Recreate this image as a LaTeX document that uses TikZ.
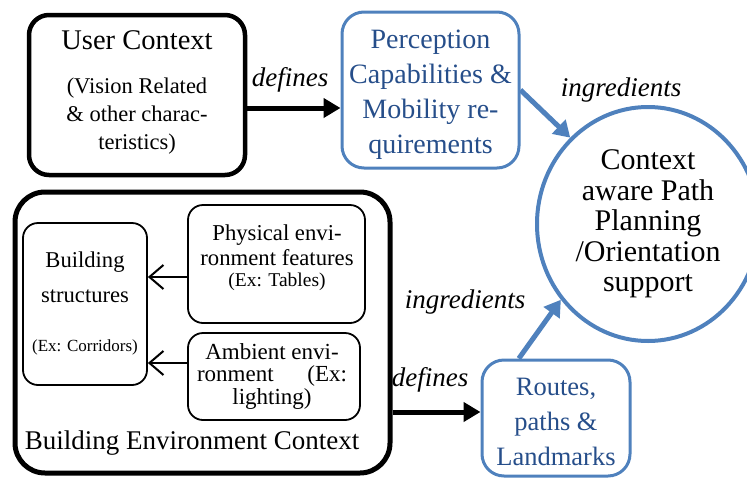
\documentclass[tikz,border=0pt]{standalone}
\usepackage{fontspec}
\setmainfont{Liberation Serif}
\usetikzlibrary{arrows.meta, shapes.geometric}

\definecolor{boxblue}{RGB}{79,129,189}
\definecolor{textblue}{RGB}{38,78,138}

\newcommand{\titlesize}{\fontsize{28.5}{30}\selectfont}
\newcommand{\notesize}{\fontsize{22.5}{28}\selectfont}
\newcommand{\percsize}{\fontsize{28}{35}\selectfont}
\newcommand{\routesize}{\fontsize{26.5}{35}\selectfont}
\newcommand{\plansize}{\fontsize{30}{30.5}\selectfont}
\newcommand{\edgesize}{\fontsize{27}{30}\selectfont\itshape}
\newcommand{\envsize}{\fontsize{27}{30}\selectfont}
\newcommand{\partsize}{\fontsize{22.7}{25}\selectfont}
\newcommand{\exsize}{\fontsize{19.5}{22}\selectfont}
\newcommand{\corrsize}{\fontsize{17}{20}\selectfont}

\begin{document}
\begin{tikzpicture}[x = 1pt, y = -1pt]
\tikzstyle{BlackBox}=[draw, rounded corners = 20pt,
                      line width = 4.5pt,
                      inner sep = 0pt]
\tikzstyle{BlueBox}=[draw = boxblue, rounded corners = 22pt,
                     line width = 3pt, inner sep = 0pt]
\tikzstyle{BlueText}=[text = textblue, align = center]
\tikzstyle{ThinBox}=[draw, rounded corners = 15pt,
                     line width = 1.8pt, inner sep = 0pt]
\tikzstyle{DefArrow}=[line width = 5pt, -{Triangle[length = 17pt, width = 19pt]}]
\tikzstyle{IngArrow}=[line width = 5pt, boxblue, -{Triangle[length = 16pt, width = 19pt]}]
\tikzstyle{PartArrow}=[line width = 2pt, -{Straight Barb[length = 14pt, width = 24pt]}]
\useasboundingbox (0,0) rectangle (747,477);
% user context
\node[BlackBox, minimum width = 216pt, minimum height = 160pt] (user) at (137,95) {};
\node[font = \titlesize] (usertitle) at (137,40) {User Context};
\node[font = \notesize, align = center] (usernote) at (137,116) {(Vision Related\\\& other charac-\\teristics)};
% perception
\node[BlueBox, minimum width = 177pt, minimum height = 156pt] (perc) at (430.5,90) {};
\node[BlueText, font = \percsize] (percname) at (430.5,95) {Perception\\Capabilities \&\\Mobility re-\\quirements};
% path planning
\node[ellipse, draw = boxblue, line width = 4pt, minimum width = 222pt, minimum height = 234pt,
      inner sep = 0pt, align = center, font = \plansize] (plan) at (648,224) {Context\\aware Path\\Planning\\/Orientation\\support};
% building environment
\node[BlackBox, line width = 5pt, rounded corners = 30pt, minimum width = 375pt, minimum height = 281pt] (benv) at (202.5,332.5) {};
\node[font = \envsize] (benvtitle) at (192,443) {Building Environment Context};
\node[ThinBox, minimum width = 124pt, minimum height = 162pt] (bstruct) at (85,304) {};
\node[font = \fontsize{22.6}{35}\selectfont, align = center] (bstructname) at (85,277) {Building\\structures};
\node[font = \corrsize] (bstructnote) at (85,347) {(Ex: Corridors)};
\node[ThinBox, minimum width = 177pt, minimum height = 118pt] (phys) at (276.5,264) {};
\node[font = \partsize, align = center] (physname) at (277,245.5) {Physical envi-\\ronment features};
\node[font = \exsize] (physnote) at (277,282) {(Ex: Tables)};
\node[ThinBox, minimum width = 172pt, minimum height = 87pt] (amb) at (274,376.5) {};
\node[font = \fontsize{23}{22.5}\selectfont, align = center] (ambname) at (272,376) {Ambient envi-\\\makebox[150pt]{ronment\hfill(Ex:}\\lighting)};
% routes
\node[BlueBox, minimum width = 148pt, minimum height = 116pt] (routes) at (556,418) {};
\node[BlueText, font = \routesize] (routesname) at (556,422) {Routes,\\paths \&\\Landmarks};
% connectors
\draw[DefArrow] ([yshift = -13pt]user.east) -- ([yshift = -18pt]perc.west);
\draw[DefArrow] ([yshift = -79.5pt]benv.east) -- ([yshift = 6pt]routes.west);
\draw[IngArrow] (perc.east) -- (plan.132);
\draw[IngArrow] (routes.122) -- (plan.221);
\draw[PartArrow] ([yshift = -13pt]phys.west) -- ([yshift = 27pt]bstruct.east);
\draw[PartArrow] ([yshift = 13.5pt]amb.west) -- ([yshift = -59pt]bstruct.east);
% labels
\node[font = \edgesize] (deftop) at (290,80) {defines};
\node[font = \edgesize] (ingtop) at (621,90) {ingredients};
\node[font = \edgesize] (ingbot) at (465,302) {ingredients};
\node[font = \edgesize] (defbot) at (430,380) {defines};
\end{tikzpicture}
\end{document}
